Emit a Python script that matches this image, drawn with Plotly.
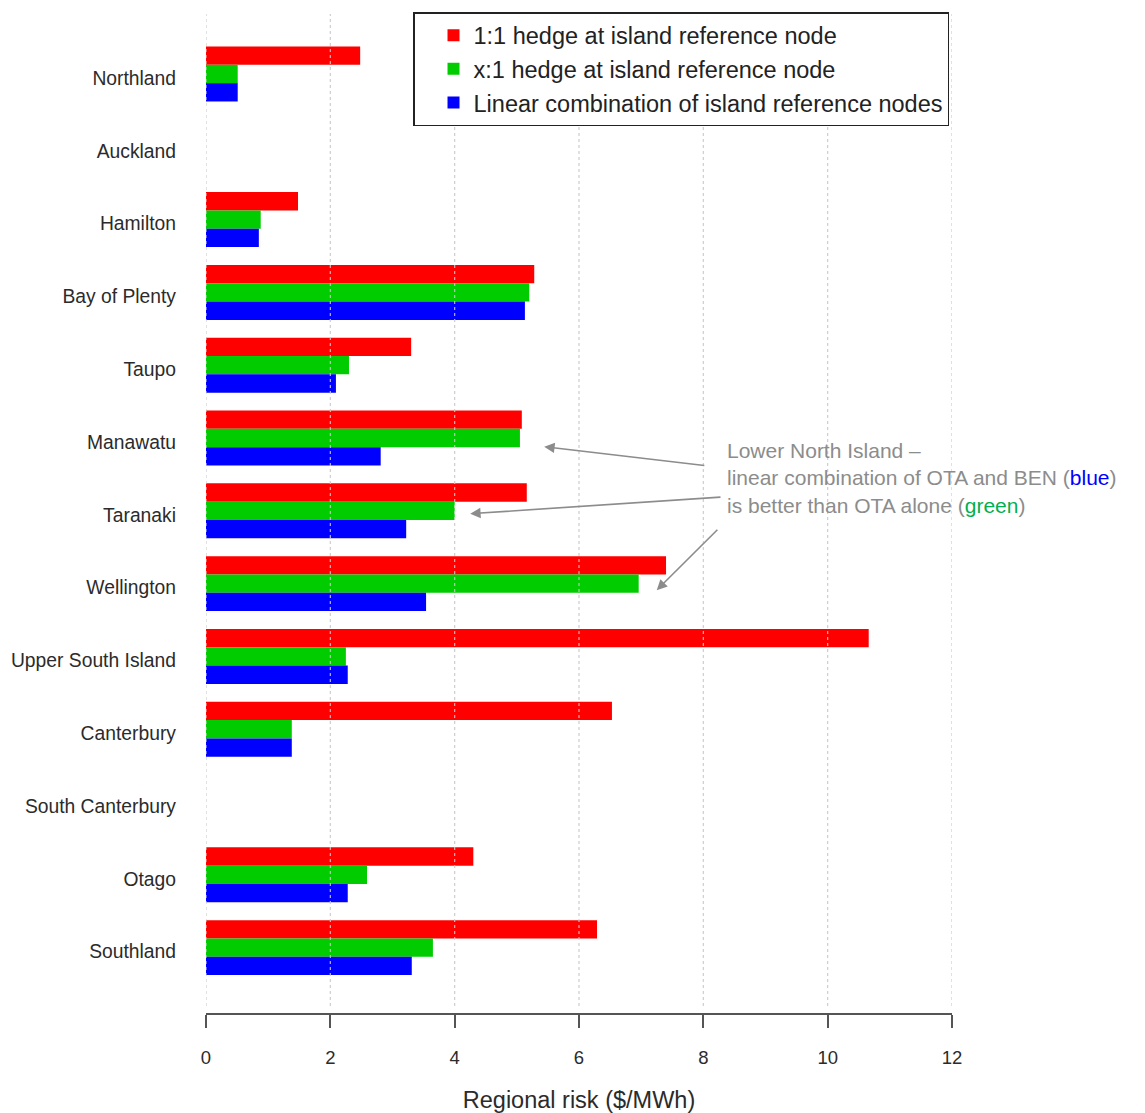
import plotly.graph_objects as go

# Regions (top to bottom) and regional risk in $/MWh for each hedging approach
regions = ["Northland", "Auckland", "Hamilton", "Bay of Plenty", "Taupo", "Manawatu",
           "Taranaki", "Wellington", "Upper South Island", "Canterbury",
           "South Canterbury", "Otago", "Southland"]
hedge_1to1 = [2.48, None, 1.48, 5.28, 3.30, 5.08, 5.16, 7.40, 10.66, 6.53, None, 4.30, 6.29]
hedge_xto1 = [0.51, None, 0.88, 5.20, 2.30, 5.05, 4.00, 6.96, 2.25, 1.38, None, 2.59, 3.65]
linear_comb = [0.51, None, 0.85, 5.13, 2.09, 2.81, 3.22, 3.54, 2.28, 1.38, None, 2.28, 3.31]

series_names = ["1:1 hedge at island reference node",
                "x:1 hedge at island reference node",
                "Linear combination of island reference nodes"]
series_colors = ["#ff0000", "#00cc00", "#0000ff"]
x_ticks = [0, 2, 4, 6, 8, 10, 12]

fig = go.Figure()
for name, vals, col in zip(series_names, [hedge_1to1, hedge_xto1, linear_comb], series_colors):
    fig.add_trace(go.Bar(
        y=regions, x=vals, orientation="h", name=name,
        marker=dict(color=col, line=dict(width=0)),
    ))

# dotted vertical grid drawn over the bars
for t in x_ticks:
    fig.add_shape(type="line", xref="x", yref="paper", x0=t, x1=t, y0=0.007, y1=0.996,
                  line=dict(color="rgba(200,200,200,0.9)", width=1.2, dash="dot"),
                  layer="above")

label_font = dict(family="Liberation Sans, Arial, sans-serif", color="#2b2b2b")

fig.update_layout(
    width=1145, height=1113,
    margin=dict(l=206, r=193, t=10, b=100),
    paper_bgcolor="white", plot_bgcolor="white",
    barmode="group", bargap=0.245, bargroupgap=0,
    font=label_font,
    showlegend=True,
    legend=dict(
        x=0.2775, y=0.998, xanchor="left", yanchor="top",
        bgcolor="white", bordercolor="#222222", borderwidth=1.5,
        font=dict(size=23.5, color="#222222", family="Liberation Sans, Arial, sans-serif"),
        indentation=19, itemwidth=30, traceorder="normal",
    ),
    xaxis=dict(
        range=[0, 12], tickvals=x_ticks, showgrid=False, zeroline=False,
        showline=True, linecolor="#555555", linewidth=1.5, automargin=False,
        ticks="outside", ticklen=13, tickwidth=1.5, tickcolor="#555555",
        tickfont=dict(size=18.5, color="#2b2b2b"), ticklabelstandoff=14,
        title=dict(text="Regional risk ($/MWh)", font=dict(size=23.5, color="#2b2b2b"), standoff=25),
    ),
    yaxis=dict(
        type="category", categoryorder="array", categoryarray=regions,
        range=[12.898, -0.879], showgrid=False, zeroline=False, showline=False,
        automargin=False,
        ticks="", tickfont=dict(size=19.3, color="#2b2b2b"), ticklabelstandoff=29,
        ticklabelshift=-4,
    ),
)

# callout text and arrows pointing at the lower North Island bars
note_color = "#8c8c8c"
fig.add_annotation(
    x=8.35, y=4.99, xref="x", yref="y", xanchor="left", yanchor="top",
    align="left", showarrow=False,
    text=("Lower North Island \u2013<br>"
          "linear combination of OTA and BEN (<span style='color:#0000ff'>blue</span>)<br>"
          "is better than OTA alone (<span style='color:#00b050'>green</span>)"),
    font=dict(size=21, color=note_color, family="Liberation Sans, Arial, sans-serif"),
)
arrow_heads = [(5.44, 5.12), (4.25, 6.04), (7.25, 7.09)]
arrow_tails = [(8.04, 5.38), (8.30, 5.81), (8.25, 6.24)]
for (hx, hy), (tx, ty) in zip(arrow_heads, arrow_tails):
    fig.add_annotation(
        x=hx, y=hy, ax=tx, ay=ty, xref="x", yref="y", axref="x", ayref="y",
        text="", showarrow=True, arrowhead=2, arrowsize=1.3, arrowwidth=1.6,
        arrowcolor=note_color,
    )

fig.write_html("out.html")
